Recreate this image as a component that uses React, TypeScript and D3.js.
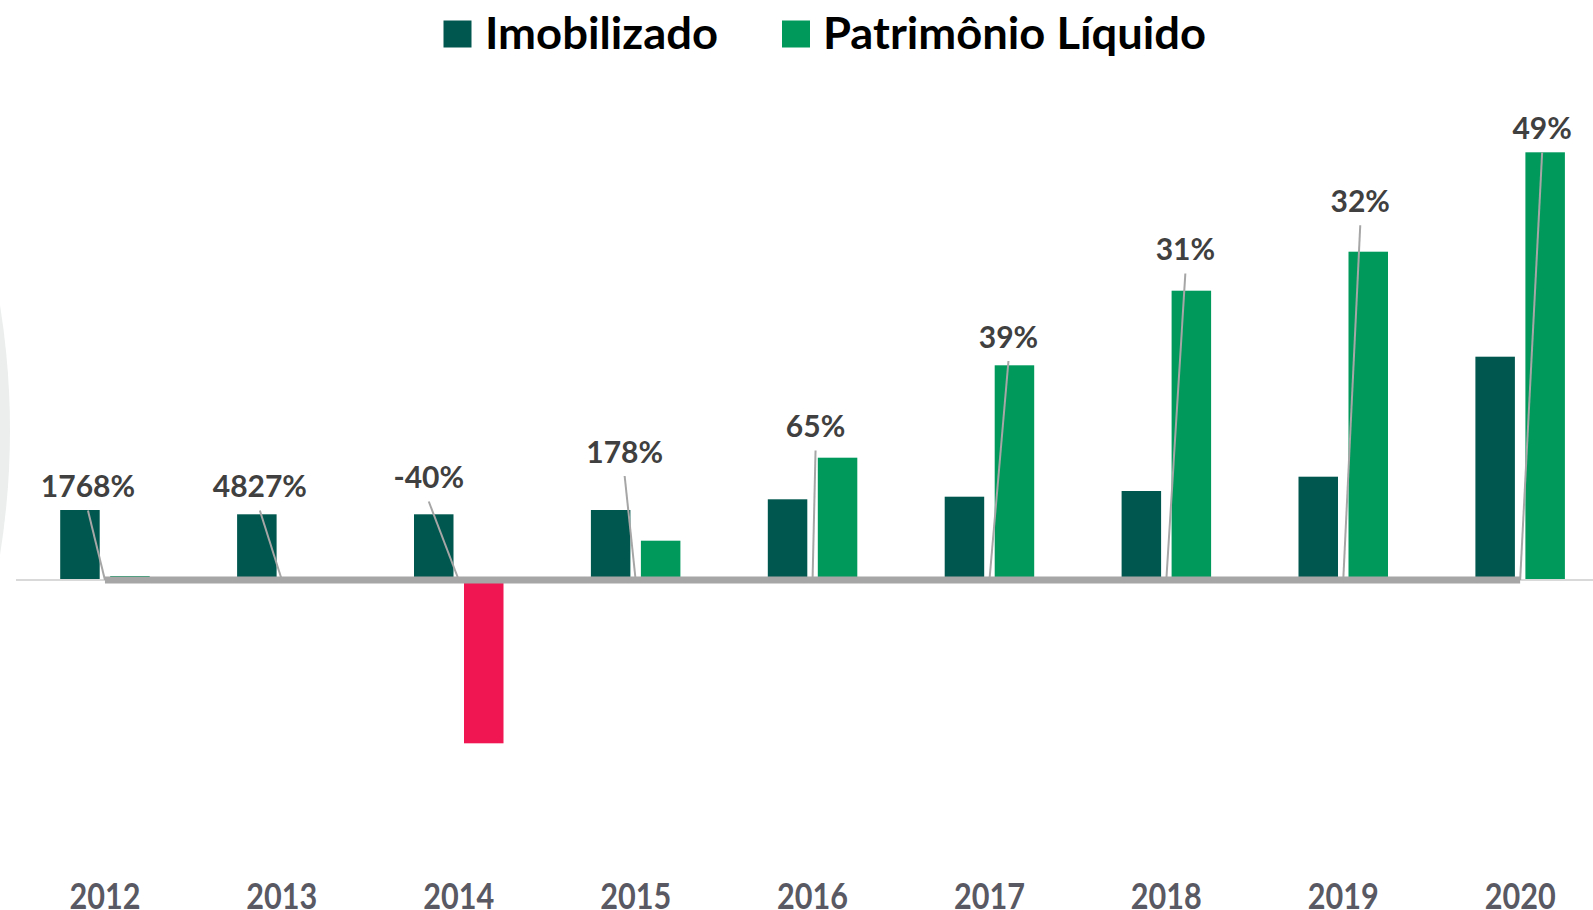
import React from "react";
import * as d3 from "d3";

const years = ["2012", "2013", "2014", "2015", "2016", "2017", "2018", "2019", "2020"];
const imobilizado = [700, 657, 657, 700, 807, 833, 890, 1033, 2233];
const patrimonio = [40, 14, -1633, 393, 1223, 2147, 2893, 3283, 4277];
const ratioLabels = ["1768%", "4827%", "-40%", "178%", "65%", "39%", "31%", "32%", "49%"];
const seriesNames = ["Imobilizado", "Patrimônio Líquido"];

// layout of the dragged data labels (px offset from category centre, baseline y)
const labelLayout = [
  { dx: -17, y: 497 },
  { dx: -22, y: 497 },
  { dx: -30, y: 488 },
  { dx: -11, y: 462.5 },
  { dx: 3, y: 437 },
  { dx: 19, y: 347.5 },
  { dx: 19, y: 260 },
  { dx: 17, y: 211.7 },
  { dx: 22, y: 139 },
];

const W = 1593;
const H = 910;
const C_IMOB = "#00574f";
const C_PL = "#00995c";
const C_NEG = "#ef1651";
const FONT = "Lato, 'Open Sans', sans-serif";

export default function App() {
  const x = d3.scaleBand<string>().domain(years).range([16.5, 1608.6]).padding(0);
  const inner = d3
    .scaleBand<string>()
    .domain(seriesNames)
    .range([x.bandwidth() / 2 - 44.75, x.bandwidth() / 2 + 44.75])
    .paddingInner(0.21);
  const y = d3.scaleLinear().domain([-3000, 4500]).range([880, 130]);
  const y0 = y(0);
  const cx = (yr: string) => (x(yr) as number) + x.bandwidth() / 2;

  const line = d3
    .line<string>()
    .x((d) => cx(d))
    .y(() => y0);

  const bar = (yr: string, s: string, v: number, i: number) => {
    const bx = (x(yr) as number) + (inner(s) as number);
    const top = Math.min(y(v), y0);
    const h = Math.abs(y(v) - y0);
    const fill = s === seriesNames[0] ? C_IMOB : v < 0 ? C_NEG : C_PL;
    return <rect key={s + i} x={bx} y={top} width={inner.bandwidth()} height={h} fill={fill} />;
  };

  return (
    <div style={{ position: "absolute", left: 0, top: 0, width: W, height: H, overflow: "hidden", background: "#fff" }}>
      <svg width={W} height={H} style={{ display: "block" }}>
        <rect width={W} height={H} fill="#ffffff" />
        <circle cx={-776} cy={430} r={786} fill="#eceeee" />
        {/* legend */}
        <g fontFamily={FONT} fontWeight={700} fontSize={43} fill="#000">
          <rect x={443.5} y={20.5} width={28} height={27} fill={C_IMOB} />
          <text x={485} y={48.5} textLength={233} lengthAdjust="spacingAndGlyphs">{seriesNames[0]}</text>
          <rect x={782} y={20.5} width={28} height={27} fill={C_PL} />
          <text x={823} y={48.5} textLength={383} lengthAdjust="spacingAndGlyphs">{seriesNames[1]}</text>
        </g>
        {/* bars */}
        <g>
          {years.map((yr, i) => bar(yr, seriesNames[0], imobilizado[i], i))}
          {years.map((yr, i) => bar(yr, seriesNames[1], patrimonio[i], i))}
        </g>
        {/* category axis */}
        <line x1={16} x2={W} y1={y0} y2={y0} stroke="#d9d9d9" strokeWidth={2} />
        {/* ratio series line */}
        <path d={line(years) || ""} fill="none" stroke="#a6a6a6" strokeWidth={7} />
        {/* leader lines */}
        <g stroke="#a6a6a6" strokeWidth={2}>
          {years.map((yr, i) => (
            <line key={yr} x1={cx(yr) + labelLayout[i].dx} y1={labelLayout[i].y + 13.5} x2={cx(yr)} y2={y0} />
          ))}
        </g>
        {/* data labels */}
        <g fontFamily={FONT} fontWeight={700} fontSize={30} fill="#404040" textAnchor="middle">
          {years.map((yr, i) => (
            <text key={yr} x={cx(yr) + labelLayout[i].dx} y={labelLayout[i].y}>
              {ratioLabels[i]}
            </text>
          ))}
        </g>
        {/* year tick labels */}
        <g fontFamily={FONT} fontWeight={700} fontSize={37} fill="#595963" textAnchor="middle">
          {years.map((yr) => (
            <text key={yr} x={cx(yr)} y={908.5} textLength={71} lengthAdjust="spacingAndGlyphs">
              {yr}
            </text>
          ))}
        </g>
      </svg>
    </div>
  );
}
